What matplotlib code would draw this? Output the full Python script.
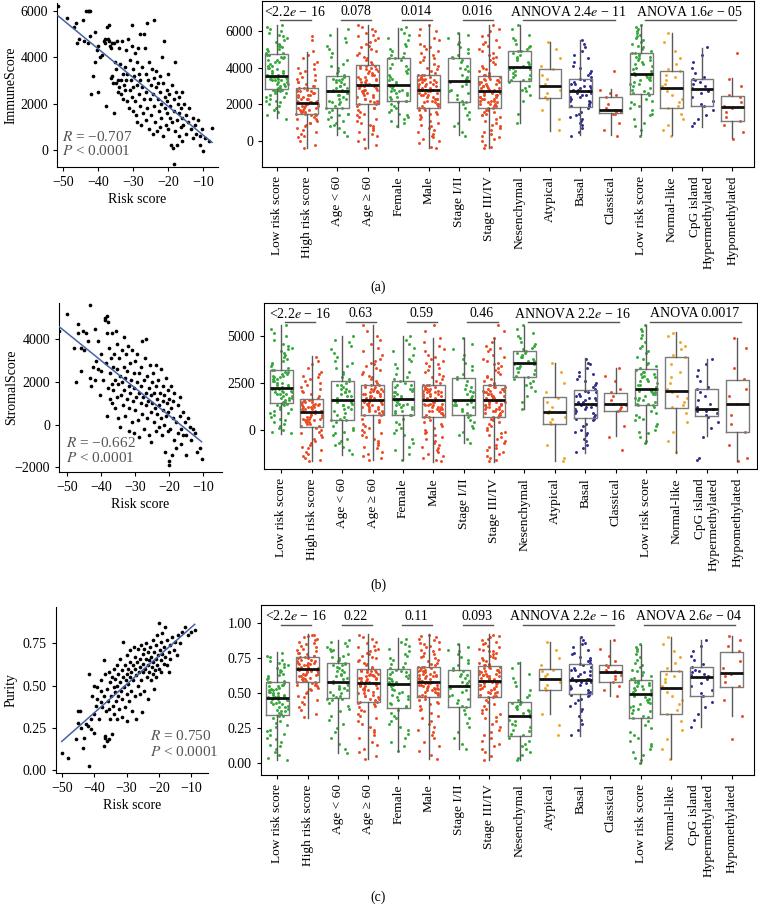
# Immune / stromal score and purity vs risk score, with clinical subgroups

import numpy as np
import matplotlib
matplotlib.use("Agg")
import matplotlib.pyplot as plt

plt.rcParams["font.family"] = ["Liberation Serif", "DejaVu Serif"]
plt.rcParams["mathtext.fontset"] = "stix"

categories = ["Low risk score", "High risk score", "Age < 60", "Age \u2265 60", "Female", "Male",
              "Stage I/II", "Stage III/IV", "Nesenchymal", "Atypical", "Basal", "Classical",
              "Low risk score", "Normal-like", "CpG island\nHypermethylated", "Hypomethylated"]
GREEN, RED, ORANGE, NAVY = "#35a83a", "#ea4a22", "#f4a62a", "#2d2c8c"
group_colors = [GREEN, RED, GREEN, RED, GREEN, RED, GREEN, RED,
                GREEN, ORANGE, NAVY, RED, GREEN, ORANGE, NAVY, RED]

# p-value labels and the groups they span
sig_spans = [(1, 2), (3, 4), (5, 6), (7, 8), (9, 12), (13, 16)]
immune_sig = ["<2.2$\\mathit{e}$ \u2212 16", "0.078", "0.014", "0.016",
              "ANNOVA 2.4$\\mathit{e}$ \u2212 11", "ANOVA 1.6$\\mathit{e}$ \u2212 05"]
stromal_sig = ["<2.2$\\mathit{e}$ \u2212 16", "0.63", "0.59", "0.46",
               "ANNOVA 2.2$\\mathit{e}$ \u2212 16", "ANOVA 0.0017"]
purity_sig = ["<2.2$\\mathit{e}$ \u2212 16", "0.22", "0.11", "0.093",
              "ANNOVA 2.2$\\mathit{e}$ \u2212 16", "ANOVA 2.6$\\mathit{e}$ \u2212 04"]

# box stats (whisker low, q1, median, q3, whisker high)
immune_box = [(1237, 2817, 3542, 4741, 6321), (-398, 1455, 2054, 2872, 4866),
              (327, 1815, 2741, 3542, 6142), (-398, 2000, 3035, 4142, 6321),
              (779, 2180, 3052, 4540, 6177), (-398, 1782, 2779, 3597, 6321),
              (327, 2109, 3286, 4540, 5902), (-398, 1815, 2725, 3559, 6321),
              (997, 3286, 4016, 4905, 6321), (561, 2327, 3014, 3907, 5411),
              (327, 1869, 2741, 3379, 5504), (327, 1509, 1689, 2381, 2817),
              (327, 2561, 3651, 4779, 6321), (327, 1815, 2872, 3815, 5869),
              (779, 1907, 2834, 3379, 5051), (147, 1090, 1836, 2469, 3417)]
stromal_box = [(-230, 1428, 2211, 3212, 5621), (-1696, 161, 964, 1642, 3925),
               (-1338, 519, 1606, 2623, 4995), (-1606, 787, 1606, 2409, 5621),
               (-1606, 787, 1642, 2623, 4995), (-1749, 680, 1606, 2409, 4907),
               (-712, 787, 1606, 2747, 4907), (-1749, 680, 1570, 2409, 4907),
               (1124, 2821, 3569, 4229, 5567), (-1696, 303, 946, 1749, 3569),
               (-1249, 625, 1392, 2104, 3819), (-357, 1000, 1356, 1963, 3302),
               (-712, 1303, 2178, 3248, 5621), (-1249, 1160, 2088, 3890, 5208),
               (-357, 733, 1124, 2178, 3801), (-1696, -143, 1392, 2677, 4907)]
purity_box = [(0.02, 0.343, 0.469, 0.579, 0.793), (0.326, 0.579, 0.671, 0.761, 0.924),
              (0.07, 0.464, 0.579, 0.714, 0.881), (0.03, 0.436, 0.571, 0.674, 0.924),
              (0.09, 0.397, 0.564, 0.674, 0.893), (0.03, 0.476, 0.583, 0.690, 0.924),
              (0.10, 0.404, 0.552, 0.666, 0.852), (0.02, 0.471, 0.588, 0.697, 0.924),
              (0.02, 0.195, 0.340, 0.440, 0.721), (0.350, 0.524, 0.600, 0.671, 0.869),
              (0.197, 0.493, 0.595, 0.709, 0.900), (0.481, 0.579, 0.654, 0.702, 0.881),
              (0.00, 0.321, 0.493, 0.595, 0.845), (0.03, 0.350, 0.538, 0.659, 0.900),
              (0.261, 0.481, 0.619, 0.690, 0.881), (0.338, 0.547, 0.643, 0.797, 0.911)]

# jittered points per group, ImmuneScore in hundreds
immune_pts = [
    "12 14 16 17 18 19 20 21 22 22 23 24 24 25 26 26 27 27 28 28 28 29 29 30 30 31 31 31 32 32 33 33 33 34 34 34 35 35 35 35 "
    "36 36 37 37 38 38 39 40 40 41 41 42 43 43 44 44 45 46 46 47 47 48 48 49 50 50 51 52 52 53 54 55 56 57 58 59 60 61 62 63",
    "-4 -2 0 2 3 4 5 6 7 8 9 10 10 11 12 12 13 14 14 15 15 15 16 16 16 17 17 17 18 18 18 19 19 19 20 20 20 21 21 21 "
    "21 22 22 23 23 23 24 24 25 25 25 26 26 27 27 27 28 28 29 29 29 30 30 31 32 32 33 34 35 36 37 38 39 40 42 43 45 47 49 55 57",
    "3 5 7 8 9 10 11 12 13 14 15 15 16 17 18 18 19 20 21 21 22 23 23 24 25 25 26 26 27 27 "
    "27 28 28 29 29 30 30 31 32 32 33 33 34 34 35 36 37 38 40 41 42 44 46 48 50 52 54 56 58 61",
    "-4 -2 0 1 3 4 5 6 7 8 9 10 11 12 13 14 15 16 17 18 18 19 20 20 21 21 22 22 23 23 24 24 25 25 26 26 27 27 28 28 28 29 29 30 30 30 "
    "30 31 31 32 32 33 33 34 34 35 35 36 36 37 37 38 38 39 39 40 40 41 41 41 42 43 44 45 46 47 48 49 50 51 52 53 54 55 56 57 58 59 60 61 62 63",
    "8 10 11 12 13 14 15 16 17 18 19 20 21 22 22 23 24 24 25 26 26 27 27 28 28 29 30 30 "
    "31 32 33 34 35 36 37 38 39 40 41 42 44 45 45 46 47 48 49 50 52 53 55 56 58 59 61 62",
    "-4 -3 -1 0 1 2 3 4 5 6 7 8 9 10 11 12 13 14 15 15 16 17 17 18 18 19 19 20 20 21 21 22 22 23 23 23 24 24 25 25 25 26 26 26 27 27 28 28 "
    "28 28 29 29 29 30 30 30 31 31 31 32 32 32 33 33 33 34 34 34 35 35 36 36 36 37 38 39 40 41 42 43 44 45 46 47 48 49 50 51 52 53 55 56 58 60 61 63",
    "3 5 8 10 12 14 16 18 20 21 22 23 25 26 27 28 30 31 32 33 34 35 36 38 39 40 41 43 44 45 46 47 48 50 51 53 54 56 58 59",
    "-4 -3 -2 0 1 2 3 4 5 6 7 8 9 10 11 12 13 14 14 15 16 16 17 17 18 18 19 19 20 20 20 21 21 22 22 22 23 23 23 24 24 24 25 25 25 26 26 26 27 27 "
    "27 28 28 28 29 29 29 30 30 30 31 31 31 32 32 32 33 33 33 34 34 35 35 36 36 36 37 38 39 40 41 42 43 44 45 46 47 48 49 50 51 52 53 54 55 57 58 60 61 63",
    "10 15 22 25 27 28 29 30 32 33 33 34 35 36 36 37 38 39 39 40 40 41 42 43 44 45 46 47 48 49 49 50 51 52 53 55 56 58 61 63",
    "6 12 17 23 24 26 28 30 31 34 36 39 41 45 50 54",
    "3 5 7 9 10 11 12 13 14 15 16 18 19 19 20 21 22 22 23 24 24 25 25 26 26 27 "
    "27 28 28 29 29 30 30 31 31 32 33 33 34 35 36 37 38 40 41 43 45 47 49 51 53 55",
    "3 6 10 15 15 16 16 17 17 18 20 24 25 26 28 38",
    "3 6 8 10 12 14 15 17 18 19 20 21 22 23 25 26 26 27 28 29 30 31 31 32 33 33 34 35 35 36 36 37 "
    "37 38 39 40 41 42 42 43 44 44 45 46 46 47 47 48 48 49 50 51 52 53 54 55 56 57 58 59 60 61 62 63",
    "3 6 9 12 15 18 19 21 23 25 27 29 30 31 33 35 36 38 39 42 45 49 54 59",
    "8 10 12 14 17 19 20 22 24 26 27 28 29 30 31 32 33 34 35 37 40 43 47 51",
    "1 5 9 11 13 16 18 19 21 24 25 30 34 48",
]

# StromalScore in hundreds
stromal_pts = [
    "-2 -1 0 1 2 3 4 5 6 7 8 9 9 10 11 11 12 13 13 14 14 15 15 16 16 17 17 17 18 18 19 19 19 20 20 20 21 21 22 22 "
    "22 23 23 24 24 25 25 26 26 27 27 28 28 29 29 30 30 31 31 32 32 33 34 35 36 37 38 39 40 41 42 43 44 45 46 48 50 52 54 56",
    "-17 -16 -15 -14 -13 -12 -11 -10 -9 -8 -7 -6 -5 -4 -3 -2 -1 0 1 2 2 3 3 4 4 5 5 5 6 6 6 7 7 7 8 8 9 9 10 10 "
    "10 10 11 11 11 12 12 12 12 13 13 13 14 14 14 15 15 15 16 16 16 17 18 19 20 21 22 23 24 25 26 27 28 29 30 31 33 35 37 39",
    "-13 -11 -9 -8 -7 -6 -5 -3 -2 -1 0 1 2 4 5 5 6 7 8 9 10 11 11 12 13 13 14 15 15 16 "
    "16 17 18 18 19 20 20 21 22 22 23 24 24 25 26 27 28 30 31 33 34 36 37 39 41 43 45 47 48 50",
    "-16 -15 -14 -13 -12 -10 -9 -8 -7 -6 -5 -4 -3 -2 -1 0 1 2 3 4 5 6 8 8 9 9 10 10 10 11 11 12 12 12 13 13 13 14 14 14 15 15 15 16 16 16 "
    "16 17 17 17 18 18 18 19 19 19 20 20 20 21 21 21 22 22 22 23 23 24 24 24 25 26 27 28 29 30 31 32 33 34 35 36 37 38 40 42 44 46 48 50 53 56",
    "-16 -13 -11 -9 -7 -5 -3 -2 0 1 3 4 6 8 8 9 10 10 11 12 12 13 13 14 14 15 16 16 "
    "17 18 18 19 20 20 21 22 22 23 24 24 25 26 27 28 30 31 33 35 37 38 40 42 44 46 48 50",
    "-17 -16 -15 -14 -13 -12 -11 -10 -9 -8 -7 -6 -5 -4 -3 -2 -1 0 1 2 3 4 5 7 7 8 8 9 9 10 10 10 11 11 11 12 12 12 13 13 13 14 14 14 15 15 16 16 "
    "16 16 17 17 17 18 18 18 19 19 19 20 20 20 21 21 21 22 22 22 23 23 24 24 24 25 26 27 28 29 30 31 32 33 34 35 36 37 38 39 40 42 43 45 47 49 53 56",
    "-7 -5 -3 -1 1 2 4 5 7 8 9 10 11 12 13 13 14 15 15 16 17 18 19 20 21 22 23 24 26 27 28 30 32 34 36 38 40 43 46 49",
    "-17 -16 -15 -14 -13 -12 -11 -10 -9 -8 -7 -6 -5 -4 -3 -2 -1 0 1 2 3 4 5 6 7 7 8 8 9 9 10 10 10 11 11 11 12 12 12 13 13 13 14 14 14 15 15 15 16 16 "
    "16 16 17 17 17 18 18 18 19 19 19 20 20 20 21 21 21 22 22 22 23 23 23 24 24 24 25 26 27 28 29 30 31 32 33 34 35 36 37 38 39 40 42 43 44 45 47 49 53 56",
    "11 15 18 21 23 24 25 26 27 28 29 30 31 32 33 33 34 35 35 36 36 37 37 38 39 39 40 41 41 42 43 44 45 46 47 49 50 52 54 56",
    "-17 -15 -8 3 4 6 7 9 10 12 15 17 20 25 31 36",
    "-12 -10 -8 -6 -5 -3 -2 -1 0 2 3 5 6 6 7 8 9 9 10 11 11 12 12 13 13 14 "
    "14 15 15 16 16 17 17 18 18 19 20 20 21 22 23 24 25 26 27 29 30 31 33 35 36 38",
    "-11 -4 2 10 11 12 13 14 14 16 18 20 22 26 29 33",
    "-7 -6 -4 -2 -1 0 2 3 5 6 7 8 9 10 12 13 13 14 14 15 16 16 17 17 18 19 19 20 20 21 21 22 "
    "22 23 24 24 25 26 26 27 28 28 29 30 30 31 31 32 33 34 35 36 38 39 41 42 44 45 47 49 51 53 54 56",
    "-12 -6 -1 4 9 12 13 15 17 18 20 21 22 25 28 31 35 39 40 43 45 47 50 52",
    "-16 -15 -4 1 4 7 8 9 10 10 11 11 12 14 16 18 20 22 23 26 29 32 35 38",
    "-17 -15 -8 -1 3 8 14 18 22 27 33 44 49",
]

# Purity in hundredths
purity_pts = [
    "2 4 6 8 10 12 13 15 17 18 20 21 23 24 26 27 29 30 32 34 34 35 36 37 37 38 39 40 40 41 42 42 43 44 44 45 45 46 46 47 "
    "47 48 48 49 49 50 50 51 51 52 52 53 53 54 55 55 56 56 57 58 58 59 60 61 62 63 64 65 66 67 68 69 70 71 72 73 74 76 77 79",
    "33 35 38 40 42 44 45 47 48 50 51 52 53 54 55 56 56 57 57 58 58 59 59 60 60 61 61 62 62 63 63 64 64 64 65 65 66 66 67 67 "
    "67 68 68 69 69 70 70 71 71 72 72 72 73 73 74 74 75 75 76 76 76 77 77 78 79 79 80 81 82 83 84 85 86 87 88 89 90 91 92 92",
    "7 10 14 18 22 25 28 31 34 37 39 41 43 45 46 46 47 48 49 50 51 52 53 54 54 55 56 57 57 58 "
    "58 59 60 61 62 63 64 65 66 67 68 69 70 70 71 72 73 74 75 76 77 78 80 81 82 83 84 86 87 88",
    "3 5 8 10 13 15 18 20 22 24 26 28 30 32 34 35 37 38 40 41 42 43 44 44 45 46 46 47 48 48 49 50 50 51 52 52 53 53 54 54 55 55 56 56 57 57 "
    "57 58 58 59 59 60 60 61 61 61 62 62 63 63 63 64 64 65 65 66 66 67 67 67 68 69 70 71 72 73 74 75 76 77 78 79 80 81 82 83 84 86 87 89 90 92",
    "9 12 15 18 21 24 26 28 30 32 34 36 38 40 41 42 43 45 46 47 48 49 50 51 52 53 55 56 "
    "57 58 58 59 60 61 61 62 63 64 65 65 66 67 68 69 71 72 74 75 77 78 80 82 84 85 87 89",
    "3 6 9 12 15 18 20 22 24 26 28 30 32 34 36 38 39 41 42 43 44 45 46 48 48 49 49 50 50 51 51 52 52 53 53 54 54 54 55 55 56 56 56 57 57 57 58 58 "
    "58 59 59 60 60 61 61 62 62 62 63 63 64 64 65 65 66 66 67 67 68 68 69 69 69 70 71 72 73 74 75 76 77 78 79 80 81 82 83 84 85 86 87 88 89 90 91 92",
    "10 14 18 22 26 29 32 35 38 40 41 43 45 46 48 49 51 52 54 55 56 57 58 59 61 62 63 64 66 67 68 70 72 74 76 78 80 81 83 85",
    "2 5 8 10 12 14 16 18 20 22 24 26 28 30 32 33 35 36 38 39 41 42 44 45 47 47 48 48 49 50 50 51 51 52 53 53 54 54 55 55 56 56 57 57 57 58 58 58 59 59 "
    "59 60 60 61 61 62 62 62 63 63 64 64 64 65 65 66 66 67 67 68 68 69 69 70 70 70 71 72 73 74 75 75 76 77 78 79 80 80 81 82 83 84 85 86 87 88 89 90 91 92",
    "2 4 6 8 10 12 14 16 18 20 21 23 24 26 27 28 30 31 33 34 35 36 37 38 39 40 41 42 43 44 45 47 49 52 55 58 61 64 68 72",
    "20 27 35 52 54 56 58 60 62 64 66 67 70 75 81 87",
    "20 24 28 31 34 37 39 41 43 45 46 48 49 49 50 51 52 53 54 55 56 57 58 58 59 60 "
    "60 61 62 63 64 65 66 67 67 68 69 70 71 72 73 74 75 76 78 79 81 83 85 86 88 90",
    "48 52 55 58 60 62 63 65 66 67 69 70 73 77 82 88",
    "0 2 4 6 8 10 12 14 16 18 20 22 25 27 30 32 33 34 36 37 38 39 40 41 42 43 44 45 46 47 48 49 "
    "49 50 51 52 52 53 54 55 55 56 57 57 58 59 59 60 61 62 63 65 66 67 69 70 72 74 76 78 80 82 83 85",
    "3 10 17 24 30 35 38 42 45 48 51 54 55 58 60 62 64 66 68 72 76 80 85 90",
    "26 31 35 40 44 48 50 52 55 57 60 62 63 64 65 66 67 69 71 74 77 80 84 88",
    "17 34 45 55 58 62 64 68 73 80 84 88 91",
]

# scatter: (risk score, value) pairs; immune/stromal in hundreds, purity in hundredths
immune_scatter = [
    -51.5, 62, -49, 57, -47, 53, -46.5, 55, -46, 46, -45.5, 48, -44.5, 56, -43.5, 60, -43, 60, -42.7, 60,
    -42.3, 60, -44, 47, -43, 46, -42.5, 49, -42, 24, -41.5, 32, -41, 51, -41, 38, -40.5, 43, -40, 25,
    -40, 45, -39.5, 40, -39, 41, -38.5, 47, -38.2, 48, -38, 46, -37.8, 19, -37.5, 53, -37.3, 48, -37, 54,
    -37, 47, -36.8, 45, -36.5, 44, -36.3, 31, -36, 46, -36, 32, -35.8, 29, -35.5, 16, -35.5, 46, -35.2, 38,
    -35, 29, -35, 35, -34.7, 47, -34.5, 25, -34.3, 30, -34, 44, -34, 27, -33.8, 37, -33.5, 24, -33.5, 30,
    -33.2, 47, -33, 33, -33, 22, -32.8, 28, -32.5, 36, -32.3, 26, -32, 30, -32, 43, -31.8, 21, -31.7, 33,
    -31.5, 48, -31.3, 18, -31, 26, -31, 39, -30.8, 30, -30.5, 45, -30.5, 23, -30.3, 54, -30, 35, -30, 27,
    -30, 17, -29.8, 32, -29.5, 42, -29.5, 21, -29.3, 15, -29, 38, -29, 28, -29, 12, -28.8, 44, -28.5, 24,
    -28.5, 33, -28.2, 19, -28, 50, -28, 30, -27.8, 11, -27.5, 27, -27.5, 36, -27.3, 16, -27, 50, -27, 22,
    -26.8, 44, -26.5, 33, -26.5, 13, -26.3, 25, -26, 55, -26, 18, -25.8, 30, -25.5, 38, -25.5, 9, -25.3, 22,
    -25, 28, -25, 15, -24.8, 35, -24.5, 7, -24.5, 24, -24.2, 31, -24, 56, -24, 19, -23.8, 12, -23.5, 27,
    -23.5, 34, -23.3, 8, -23, 22, -23, 29, -22.8, 17, -22.5, 32, -22.5, 10, -22.3, 25, -22, 20, -22, 14,
    -21.8, 40, -21.5, 29, -21.5, 6, -21.3, 47, -21, 23, -21, 18, -20.8, 11, -20.5, 26, -20.5, 16, -20.3, 21,
    -20, 33, -20, 9, -19.8, 24, -19.5, 14, -19.5, 19, -19.3, 2, -19, 28, -19, 12, -18.8, 1, -18.5, -6,
    -18.5, 22, -18.3, 17, -18, 38, -18, 8, -17.8, 25, -17.5, 13, -17.5, 2, -17.3, 20, -17, 16, -17, 6,
    -16.8, 23, -16.5, 10, -16.5, 18, -16.2, 25, -16, 14, -16, 4, -15.8, 11, -15.5, 20, -15, 7, -15, 15,
    -14.5, 12, -14, 18, -13.5, 9, -13, 14, -13, 5, -12.5, 11, -12, 7, -11.5, 13, -11, 2, -11, 6,
    -10.5, 9, -10, -0.5, -9.5, 5, -8.5, 4, -7.5, 9.5,
]
stromal_scatter = [
    -52.5, 44, -50, 52, -48, 36, -47.5, 20, -47, 47, -47, 43, -46, 36, -46, 25, -45.5, 44, -45, 35,
    -44.5, 43, -44, 39, -43.5, 56, -43.5, 22, -43, 18, -42.5, 27, -42, 45, -42, 21, -41.5, 30, -41, 26,
    -41, 39, -40.5, 14, -40, 25, -40, 33, -39.5, 21, -39, 49, -39, 50, -38.8, 29, -38.5, 51, -38.5, 4,
    -38.3, 43, -38, 48, -38, 17, -37.8, 36, -37.5, 24, -37.5, 12, -37.3, 31, -37, 19, -37, 43, -36.8, 10,
    -36.5, 27, -36.5, 16, -36.3, 33, -36, 8, -36, 21, -35.8, 44, -35.5, 13, -35.5, 26, -35.3, 38, -35, 19,
    -35, 3, -34.8, 31, -34.5, 23, -34.5, -1, -34.3, 14, -34, 35, -34, 20, -33.8, 9, -33.5, 27, -33.5, 41,
    -33.3, 16, -33, 22, -33, 4, -32.8, 33, -32.5, 12, -32.5, 25, -32.3, 37, -32, 18, -32, -3, -31.8, 8,
    -31.5, 29, -31.5, 15, -31.3, 21, -31, 35, -31, 1, -30.8, 11, -30.5, 24, -30.5, 17, -30.3, -4, -30, 30,
    -30, 7, -29.8, 13, -29.5, 20, -29.5, 33, -29.3, 2, -29, 15, -29, 24, -28.8, -6, -28.5, 10, -28.5, 27,
    -28.3, 18, -28, 39, -28, 5, -27.8, 13, -27.5, 21, -27.5, -2, -27.3, 31, -27, 9, -27, 15, -26.8, 40,
    -26.5, 3, -26.5, 23, -26.3, 11, -26, 17, -26, -5, -25.8, 28, -25.5, 6, -25.5, 14, -25.3, -8, -25, 20,
    -25, 10, -24.8, 24, -24.5, 1, -24.5, 15, -24.2, 8, -24, 18, -24, -3, -23.8, 28, -23.5, 12, -23.5, 5,
    -23.3, 21, -23, -1, -23, 9, -22.8, 15, -22.5, 3, -22.5, 26, -22.3, -5, -22, 11, -22, 18, -21.8, 7,
    -21.5, 0, -21.5, 14, -21.3, -13, -21, 22, -21, 4, -20.8, 10, -20.5, -3, -20.5, 16, -20.3, 6, -20, -17,
    -20, -19, -20, 12, -19.8, -2, -19.5, 8, -19.5, 18, -19.3, -14, -19, 3, -19, 11, -18.5, -7, -18.5, 15,
    -18, 1, -18, -11, -17.5, 9, -17.5, -4, -17, 13, -17, 4, -16.5, -2, -16.5, -9, -16, 6, -16, -5,
    -15.5, 1, -15, -14, -15, -5, -14.5, 3, -14, -1, -13.5, -7, -13, -2, -12.5, -4, -12, -13, -11, -11,
    -10.5, -16,
]
purity_scatter = [
    -50, 10, -48, 7, -45.5, 18, -45, 35, -44.5, 35, -45, 28, -44, 25, -43.5, 13, -43, 19, -42.5, 27,
    -42, 26, -41.5, 57, -41.5, 2, -41, 24, -41, 30, -40.5, 44, -40, 33, -40, 22, -40, 50, -39.5, 38,
    -39, 42, -39, 49, -38.5, 30, -38, 47, -38, 40, -38, 53, -37.5, 37, -37, 65, -37, 14, -37, 44,
    -36.8, 19, -36.5, 20, -36.5, 57, -36.3, 35, -36, 17, -36, 48, -35.8, 41, -35.5, 36, -35.5, 58, -35.3, 18,
    -35, 52, -35, 30, -34.8, 44, -34.5, 21, -34.5, 55, -34.2, 38, -34, 49, -34, 60, -33.8, 33, -33.5, 46,
    -33.5, 54, -33.2, 41, -33, 62, -33, 30, -32.8, 50, -32.5, 44, -32.5, 57, -32.3, 36, -32, 52, -32, 66,
    -31.8, 47, -31.5, 31, -31.5, 59, -31.3, 42, -31, 55, -31, 76, -30.8, 49, -30.5, 62, -30.5, 37, -30.3, 53,
    -30, 57, -30, 45, -30, 68, -29.8, 29, -29.5, 60, -29.5, 51, -29.3, 41, -29, 64, -29, 55, -28.8, 71,
    -28.5, 47, -28.5, 58, -28.3, 35, -28, 62, -28, 53, -27.8, 73, -27.5, 44, -27.5, 60, -27.3, 67, -27, 56,
    -27, 30, -26.8, 64, -26.5, 50, -26.5, 72, -26.3, 58, -26, 45, -26, 66, -25.8, 61, -25.5, 74, -25.5, 53,
    -25.3, 34, -25, 69, -25, 58, -24.8, 63, -24.5, 47, -24.5, 72, -24.2, 60, -24, 66, -24, 75, -23.8, 55,
    -23.5, 62, -23.5, 70, -23.3, 42, -23, 65, -23, 58, -22.8, 73, -22.5, 53, -22.5, 67, -22.3, 61, -22, 77,
    -22, 57, -21.8, 64, -21.5, 70, -21.5, 48, -21.3, 59, -21, 66, -21, 74, -20.8, 55, -20.5, 62, -20.5, 80,
    -20.3, 68, -20, 87, -20, 60, -19.8, 71, -19.5, 65, -19.5, 76, -19.3, 58, -19, 69, -19, 81, -18.5, 63,
    -18.5, 73, -18, 85, -18, 67, -17.5, 77, -17.5, 62, -17, 70, -17, 58, -16.5, 74, -16.5, 66, -16, 79,
    -15.5, 71, -15, 76, -14.5, 68, -14, 80, -13.5, 75, -13, 82, -12, 85, -11, 80, -10, 82, -9, 83,
]


def jitter(n, k):
    i = np.arange(n) + 1.0 + 101.0 * k
    return (np.abs(np.sin(i * 12.9898 + k * 78.233)) * 43758.5453) % 1.0 - 0.5


def scatter_panel(px, pts, scale, ylabel, xlim, ylim, yticks, rtext, ptext, txy, fmt=None):
    ax = fig.add_axes(r(*px))
    pts = np.array(pts, float).reshape(-1, 2)
    x, y = pts[:, 0], pts[:, 1] * scale
    ax.scatter(x, y, s=7, color="black", linewidths=0, zorder=2)
    coef = np.polyfit(x, y, 1)
    xx = np.array([x.min(), x.max()])
    ax.plot(xx, np.polyval(coef, xx), color="#4663a6", lw=1.1, zorder=3)
    ax.set_xlim(*xlim)
    ax.set_ylim(*ylim)
    ax.set_xticks([-50, -40, -30, -20, -10])
    ax.set_yticks(yticks)
    if fmt:
        ax.set_yticklabels([fmt % v for v in yticks])
    for s in ["top", "right"]:
        ax.spines[s].set_visible(False)
    ax.tick_params(labelsize=10, length=3, width=0.8)
    ax.set_xlabel("Risk score", fontsize=10, labelpad=3)
    ax.set_ylabel(ylabel, fontsize=10)
    # y label's right edge sits near x = 18 px in the figure
    ax.yaxis.set_label_coords((18 - px[0]) / (px[2] - px[0]), 0.5)
    ax.text(txy[0], txy[1], rtext, transform=ax.transAxes, fontsize=11, color="#555555", va="center")
    ax.text(txy[0], txy[2], ptext, transform=ax.transAxes, fontsize=11, color="#555555", va="center")
    return ax


def box_panel(px, boxes, points, scale, sigs, xlim, ylim, yticks, fmt=None):
    ax = fig.add_axes(r(*px))
    pos = np.arange(1, len(categories) + 1)
    for k, (s, c) in enumerate(zip(points, group_colors)):
        v = np.array(s.split(), float) * scale
        ax.scatter(pos[k] + 0.72 * jitter(len(v), k), v, s=4.5, color=c, linewidths=0, zorder=2)
    stats = [dict(whislo=b[0], q1=b[1], med=b[2], q3=b[3], whishi=b[4], fliers=[]) for b in boxes]
    ax.bxp(stats, positions=pos, widths=0.75, showfliers=False, showcaps=False,
           boxprops=dict(color="#7a7a7a", lw=1.0, zorder=3),
           whiskerprops=dict(color="#5a5a5a", lw=1.0, zorder=3),
           medianprops=dict(color="#111111", lw=2.0, zorder=4))
    ax.set_xlim(*xlim)
    ax.set_ylim(*ylim)
    ax.set_xticks(pos)
    ax.set_xticklabels(categories, rotation=90, fontsize=9.6)
    for t in ax.get_xticklabels():
        t.set_multialignment("right")
    ax.set_yticks(yticks)
    if fmt:
        ax.set_yticklabels([fmt % v for v in yticks])
    ax.tick_params(axis="y", labelsize=10)
    ax.tick_params(length=3, width=0.8)
    for (i, j), txt in zip(sig_spans, sigs):
        ax.plot([i + 0.12, j + 0.12], [0.885, 0.885], transform=ax.get_xaxis_transform(),
                color="#555555", lw=1.0, clip_on=False)
        ax.text((i + j) / 2 + 0.1, 0.935, txt, transform=ax.get_xaxis_transform(),
                ha="center", va="center", fontsize=10)
    return ax


W, H = 758, 910
fig = plt.figure(figsize=(W / 100, H / 100), dpi=100)


def r(l, t, rr, b):
    return [l / W, 1 - b / H, (rr - l) / W, (b - t) / H]


scatter_panel((57, 3, 218, 167), immune_scatter, 100, "ImmuneScore", (-51.8, -5.8), (-734, 6345),
              [0, 2000, 4000, 6000], "$R$ = \u22120.707", "$P$ < 0.0001", (0.03, 0.183, 0.098))
box_panel((262, 1, 754, 167), immune_box, immune_pts, 100, immune_sig,
          (0.52, 16.71), (-1418, 7636), [0, 2000, 4000, 6000])

scatter_panel((59, 303, 222, 472), stromal_scatter, 100, "StromalScore", (-52.5, -4.5), (-2220, 5700),
              [-2000, 0, 2000, 4000], "$R$ = \u22120.662", "$P$ < 0.0001", (0.045, 0.17, 0.085))
box_panel((264, 303, 757, 469), stromal_box, stromal_pts, 100, stromal_sig,
          (0.43, 16.65), (-2104, 6788), [0, 2500, 5000])

scatter_panel((56, 607, 208, 773), purity_scatter, 0.01, "Purity", (-51.75, -4.9), (-0.02, 0.967),
              [0, 0.25, 0.5, 0.75], "$R$ = 0.750", "$P$ < 0.0001", (0.617, 0.22, 0.126), fmt="%.2f")
box_panel((261, 605, 754, 775), purity_box, purity_pts, 0.01, purity_sig,
          (0.46, 16.74), (-0.084, 1.131), [0, 0.25, 0.5, 0.75, 1.0], fmt="%.2f")

for label, yy in [("(a)", 287), ("(b)", 585), ("(c)", 897)]:
    fig.text(378 / W, 1 - yy / H, label, ha="center", va="center", fontsize=10)

fig.savefig("out.png", dpi=100)
